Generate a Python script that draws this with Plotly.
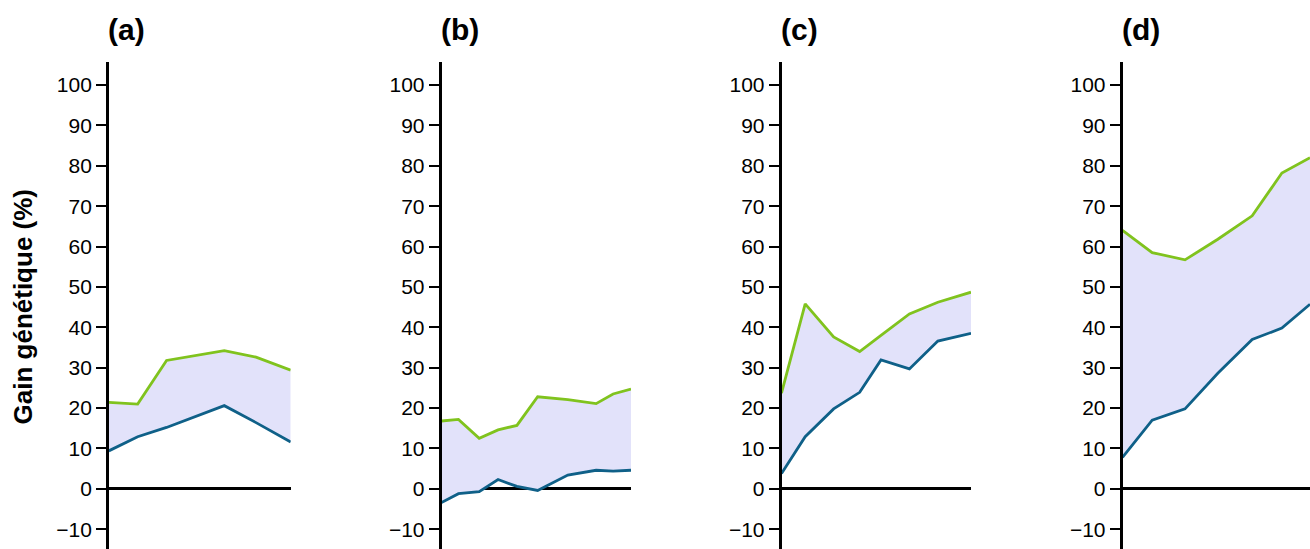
import plotly.graph_objects as go

# panel labels
panels = ["(a)", "(b)", "(c)", "(d)"]

# x positions (arbitrary time units)
x_a = [0, 1, 2, 3, 4, 5.1, 6.3]
x_b = [0, 0.9, 2, 3, 4, 5.1, 6.7, 8.2, 9.1, 10.05]
x_c = [0, 1, 2.2, 3.3, 4.2, 5.4, 6.6, 8]
x_d = [0, 0.95, 2, 3.05, 4.15, 5.1, 6.0]

# upper (green) series
haut_a = [21.4, 21.0, 31.8, 33.0, 34.2, 32.6, 29.4]
haut_b = [16.8, 17.2, 12.5, 14.6, 15.7, 22.8, 22.1, 21.1, 23.5, 24.7]
haut_c = [23.7, 45.8, 37.6, 34.0, 38.0, 43.3, 46.2, 48.7]
haut_d = [64.0, 58.5, 56.7, 61.8, 67.6, 78.2, 82.0]

# lower (blue) series
bas_a = [9.4, 12.9, 15.2, 17.9, 20.6, 16.4, 11.6]
bas_b = [-3.4, -1.2, -0.7, 2.3, 0.6, -0.4, 3.4, 4.6, 4.4, 4.6]
bas_c = [3.8, 12.9, 19.8, 23.9, 31.9, 29.7, 36.6, 38.5]
bas_d = [7.8, 17.0, 19.8, 28.6, 37.0, 39.8, 45.7]

y_ticks = [-10, 0, 10, 20, 30, 40, 50, 60, 70, 80, 90, 100]

W, H = 1310, 549
domains = [(108.8, 290.7), (441.5, 631), (781.5, 971), (1122.5, 1310)]

green = "#80C31E"
blue = "#0F6088"
fill = "rgba(226,226,250,1)"
font = "Liberation Sans, Arial"

fig = go.Figure()
series = [(x_a, bas_a, haut_a), (x_b, bas_b, haut_b),
          (x_c, bas_c, haut_c), (x_d, bas_d, haut_d)]

for i, (xs, lo, hi) in enumerate(series):
    n = "" if i == 0 else str(i + 1)
    fig.add_trace(go.Scatter(x=xs, y=lo, mode="lines",
                             line=dict(color=blue, width=2.8),
                             xaxis="x" + n, yaxis="y" + n, showlegend=False))
    fig.add_trace(go.Scatter(x=xs, y=hi, mode="lines", fill="tonexty",
                             fillcolor=fill,
                             line=dict(color=green, width=2.8),
                             xaxis="x" + n, yaxis="y" + n, showlegend=False))
    d0, d1 = domains[i]
    fig.layout["xaxis" + n] = dict(domain=[d0 / W, d1 / W], range=[0, xs[-1]],
                                  visible=False, anchor="y" + n)
    fig.layout["yaxis" + n] = dict(
        range=[-14.9, 105.7], anchor="x" + n,
        tickvals=y_ticks, ticks="outside", ticklen=10, tickwidth=2,
        tickcolor="black", showline=True, linecolor="black", linewidth=2.5,
        showgrid=False, zeroline=True, zerolinecolor="black", zerolinewidth=2.5,
        tickfont=dict(family=font, size=21, color="black"),
    )
    fig.add_annotation(text="<b>%s</b>" % panels[i], xref="paper", yref="paper",
                       x=(d0 + 18) / W, y=1 + 32 / 487, xanchor="center",
                       yanchor="middle", showarrow=False,
                       font=dict(family=font, size=30, color="black"))

fig.add_annotation(text="<b>Gain génétique (%)</b>", xref="paper", yref="paper",
                   x=22.5 / W, y=0.497, textangle=-90, xanchor="center",
                   yanchor="middle", showarrow=False,
                   font=dict(family=font, size=26, color="black"))

fig.update_layout(width=W, height=H, margin=dict(l=0, r=0, t=62, b=0),
                  plot_bgcolor="white", paper_bgcolor="white")

# page body has a default 8px margin; remove it so the figure sits at 0,0
fig.write_html("out.html", config={"displayModeBar": False},
               post_script="document.body.style.margin='0px';")
